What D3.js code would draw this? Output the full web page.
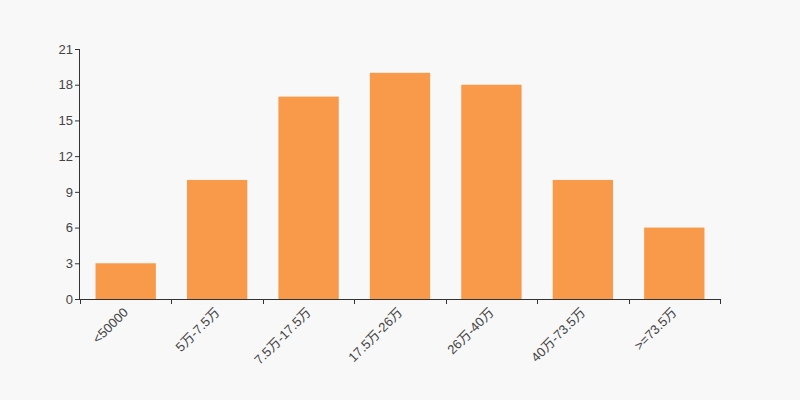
<!DOCTYPE html>
<html><head><meta charset="utf-8">
<script src="https://cdn.jsdelivr.net/npm/d3@7"></script>
<style>body{margin:0;background:#f8f8f8;}svg{display:block;}</style>
</head><body>
<script>
const categories = ["<50000","5万-7.5万","7.5万-17.5万","17.5万-26万","26万-40万","40万-73.5万",">=73.5万"];
const values = [3,10,17,19,18,10,6];
const yTicks = [0,3,6,9,12,15,18,21];

const W=800,H=400,m={l:80,r:80,t:49,b:101};
const svg=d3.select("body").append("svg").attr("width",W).attr("height",H).style("background","#f8f8f8");
const x=d3.scaleBand().domain(categories).range([m.l,W-m.r]).paddingInner(0.34).paddingOuter(0.17);
const y=d3.scaleLinear().domain([0,21]).range([H-m.b,m.t]);
const font="'Liberation Sans',Arial,'Noto Sans CJK SC',sans-serif";

svg.append("g").selectAll("rect").data(values).join("rect")
 .attr("x",(d,i)=>x(categories[i])).attr("width",x.bandwidth())
 .attr("y",d=>y(d)).attr("height",d=>y(0)-y(d))
 .attr("fill","#f99a4a");

const ya=svg.append("g").attr("transform",`translate(${m.l},0)`)
 .call(d3.axisLeft(y).tickValues(yTicks).tickSize(5).tickPadding(2));
ya.select(".domain").attr("stroke","#333").attr("d",`M-0.5,${y(21)}V${y(0)}`);
ya.selectAll(".tick line").attr("stroke","#333");
ya.selectAll("text").attr("fill","#444").style("font-size","13px").style("font-family",font);

// x axis with boundary ticks
const xa=svg.append("g").attr("transform",`translate(0,${y(0)})`);
xa.append("line").attr("x1",m.l).attr("x2",W-m.r).attr("y1",0.5).attr("y2",0.5).attr("stroke","#333");
const bounds=d3.range(categories.length+1).map(i=>m.l+i*(W-m.l-m.r)/categories.length);
xa.selectAll("line.t").data(bounds).join("line").attr("class","t")
 .attr("x1",d=>Math.round(d)+0.5).attr("x2",d=>Math.round(d)+0.5).attr("y1",0).attr("y2",5).attr("stroke","#333");
xa.selectAll("text").data(categories).join("text")
 .attr("transform",d=>`translate(${x(d)+x.bandwidth()/2},${11}) rotate(-45)`)
 .attr("text-anchor","end").attr("dy","0.35em")
 .attr("fill","#444").style("font-size","13px").style("font-family",font)
 .text(d=>d);
</script>
</body></html>
